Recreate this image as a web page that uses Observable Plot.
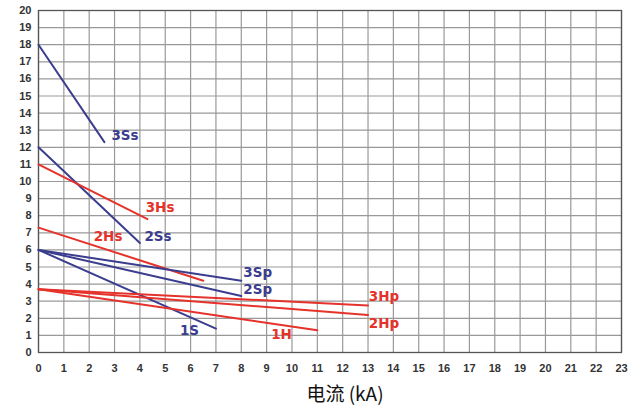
<!DOCTYPE html>
<html><head><meta charset="utf-8">
<script src="https://cdn.jsdelivr.net/npm/d3@7"></script>
<script src="https://cdn.jsdelivr.net/npm/@observablehq/plot@0.6"></script>
<style>
body{margin:0;background:#fff;}
</style>
</head><body>
<div id="chart"></div>
<script>
// series: [current kA, value] endpoints
const s3Ss = [[0,18],[2.6,12.3]];
const s2Ss = [[0,12],[4,6.4]];
const s3Hs = [[0,11],[4.3,7.8]];
const s2Hs = [[0,7.3],[6.5,4.2]];
const s3Sp = [[0,6],[8,4.2]];
const s2Sp = [[0,6],[8,3.3]];
const s1S  = [[0,6],[7,1.4]];
const s3Hp = [[0,3.7],[13,2.75]];
const s2Hp = [[0,3.7],[13,2.2]];
const s1H  = [[0,3.7],[11,1.3]];

const seriesNames = ["3Ss","2Ss","3Hs","2Hs","3Sp","2Sp","1S","3Hp","2Hp","1H"];
const seriesData  = [s3Ss,s2Ss,s3Hs,s2Hs,s3Sp,s2Sp,s1S,s3Hp,s2Hp,s1H];
const seriesType  = ["S","S","H","H","S","S","S","H","H","H"];
// label anchor points (data coordinates)
const labelX = [2.8, 4.1, 4.15, 2.1, 8.0, 8.0, 5.5, 12.95, 12.95, 9.1];
const labelY = [12.7, 6.75, 8.45, 6.75, 4.65, 3.65, 1.3, 3.25, 1.7, 1.05];

const xTicks = d3.range(0,24);
const yTicks = d3.range(0,21);
const xTitle = "电流 (kA)";

const colors = {S:"#3b3d8e", H:"#e5322b"};

const rows = [];
seriesData.forEach((pts,i)=>pts.forEach(p=>rows.push({name:seriesNames[i], type:seriesType[i], x:p[0], y:p[1]})));
const labels = seriesNames.map((n,i)=>({name:n, type:seriesType[i], x:labelX[i], y:labelY[i]}));

const chart = Plot.plot({
  width:636, height:416,
  marginLeft:38, marginRight:15, marginTop:10, marginBottom:64,
  style:{fontFamily:"Liberation Sans, Arial, sans-serif", background:"#fff"},
  x:{domain:[0,23], ticks:xTicks, label:null},
  y:{domain:[0,20], ticks:yTicks, label:null},
  marks:[
    Plot.ruleX(xTicks,{stroke:"#999", strokeWidth:1.2}),
    Plot.ruleY(yTicks,{stroke:"#999", strokeWidth:1.2}),
    Plot.frame({stroke:"#555", strokeWidth:1.3}),
    Plot.axisX({ticks:xTicks, tickSize:0, tickPadding:12, fontSize:11, fill:"#333", fontWeight:"bold", label:null}),
    Plot.axisY({ticks:yTicks, tickSize:0, tickPadding:7, fontSize:11, fill:"#333", fontWeight:"bold", label:null}),
    Plot.line(rows,{x:"x", y:"y", z:"name", stroke:d=>colors[d.type], strokeWidth:2}),
    Plot.text(labels,{x:"x", y:"y", text:"name", fill:d=>colors[d.type], fontSize:13.5, fontWeight:"bold", textAnchor:"start", dx:2, fontFamily:"DejaVu Sans, Verdana, sans-serif"}),
    Plot.text([xTitle],{frameAnchor:"bottom", dy:48, dx:15, fontSize:19, fill:"#111", fontFamily:"Noto Sans CJK SC, sans-serif"})
  ]
});
document.getElementById("chart").append(chart);
</script>
</body></html>
